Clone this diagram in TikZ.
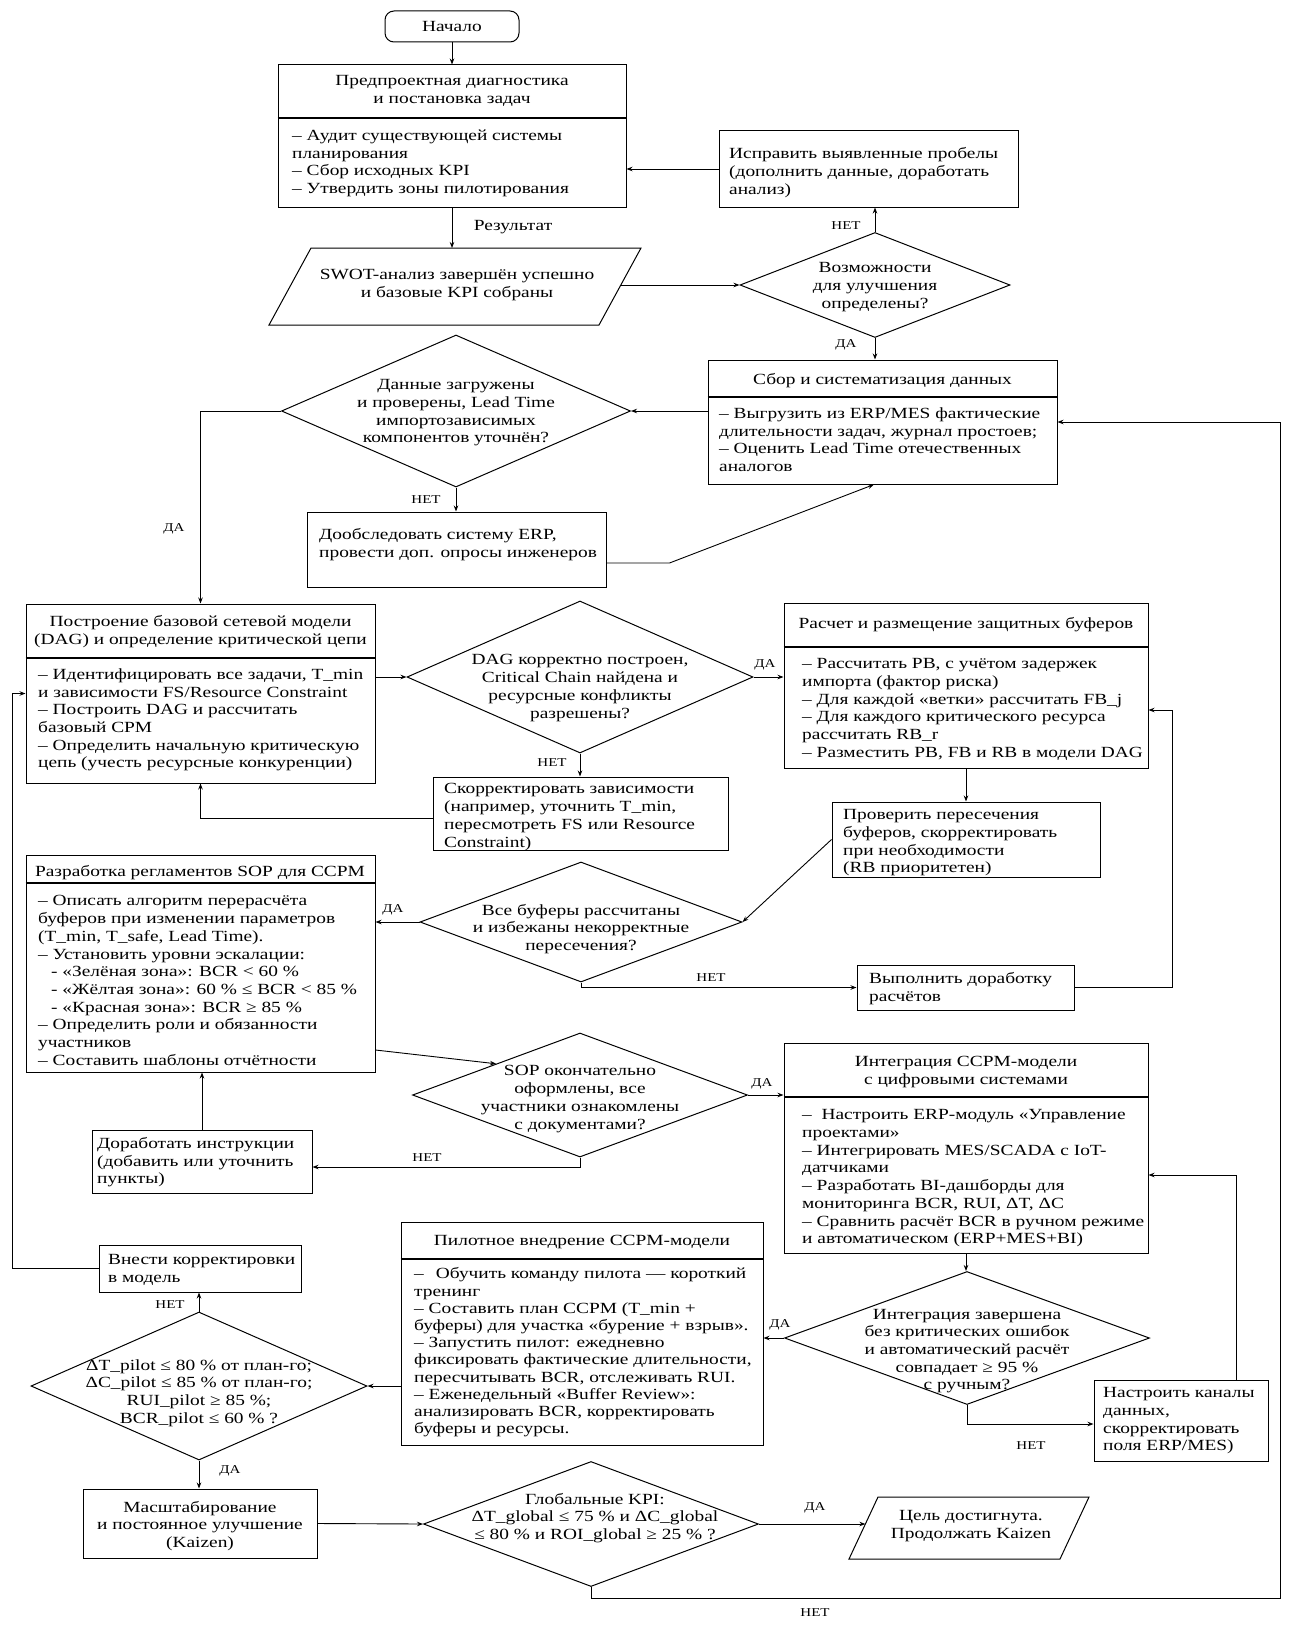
\documentclass[tikz,border=0pt]{standalone}
\usepackage{fontspec}
\setmainfont[FakeStretch=1.25]{Liberation Serif}
\usetikzlibrary{shapes.geometric,arrows.meta,calc}
\newcommand{\mainfs}{\fontsize{15.5}{17.7}\selectfont}
\newcommand{\tightfs}{\fontsize{15.5}{17.2}\selectfont}
\newcommand{\labfs}{\fontsize{12}{14}\selectfont}
\begin{document}
\begin{tikzpicture}[x=1pt,y=-1pt,
  bx/.style={draw, line width=1pt, inner sep=0pt, rectangle},
  dia/.style={draw, line width=1pt, diamond, inner sep=0pt},
  arr/.style={line width=0.9pt, -{Stealth[length=6pt,width=4.5pt]}},
  hdr/.style={line width=1.6pt},
  tl/.style={inner sep=0pt, anchor=north west, align=left, font=\mainfs, execute at begin node=\strut},
  tc/.style={inner sep=0pt, anchor=center, align=center, font=\mainfs, execute at begin node=\strut, execute at end node=\strut},
  lab/.style={inner sep=0pt, font=\labfs},
  labm/.style={inner sep=0pt, font=\mainfs}
]
\fill[white] (0,0) rectangle (1292,1635);
\useasboundingbox (0,0) rectangle (1292,1635);

% ---------- nodes ----------
\node[bx, minimum width=134pt, minimum height=31pt, rounded corners=9pt] (start) at (452,26.5) {};
\node[tc] (starttxt) at (452,28) {Начало};

\node[bx, minimum width=348pt, minimum height=142pt] (b1) at (452,136) {};
\draw[hdr] (b1.west |- 0,118) -- (b1.east |- 0,118);
\node[tc] (b1h) at (452,92) {Предпроектная диагностика\\и постановка задач};
\node[tl] (b1b) at (292,129.5) {– Аудит существующей системы\\планирования\\– Сбор исходных KPI\\– Утвердить зоны пилотирования};

\node[bx, minimum width=299pt, minimum height=76pt] (fix) at (868.5,169) {};
\node[tl] (fixt) at (729,147.5) {Исправить выявленные пробелы\\(дополнить данные, доработать\\анализ)};

\draw[line width=1pt] (311,248) -- (641,248) -- (599,325) -- (269,325) -- cycle;
\coordinate (partop) at (452,248);
\coordinate (parright) at (620.8,285);
\node[tc] (par) at (457,286) {SWOT-анализ завершён успешно\\и базовые KPI собраны};

\node[dia, minimum width=270pt, minimum height=105pt] (d1) at (875,285) {};
\node[tc] (d1t) at (875,288) {Возможности\\для улучшения\\определены?};

\node[bx, minimum width=349pt, minimum height=124pt] (b2) at (882.5,422) {};
\draw[hdr] (b2.west |- 0,397) -- (b2.east |- 0,397);
\node[tc] (b2h) at (882.5,381) {Сбор и систематизация данных};
\node[tl] (b2b) at (719,407.5) {– Выгрузить из ERP/MES фактические\\длительности задач, журнал простоев;\\– Оценить Lead Time отечественных\\аналогов};

\node[dia, minimum width=349pt, minimum height=152pt] (d2) at (456,411) {};
\node[tc] (d2t) at (456,414) {Данные загружены\\и проверены, Lead Time\\импортозависимых\\компонентов уточнён?};

\node[bx, minimum width=299pt, minimum height=75pt] (erp) at (456.5,549.5) {};
\node[tl] (erpt) at (319,528.5) {Дообследовать систему ERP,\\провести доп. опросы инженеров};

\node[bx, minimum width=349pt, minimum height=179pt] (dag) at (200.5,693.5) {};
\draw[hdr] (dag.west |- 0,658) -- (dag.east |- 0,658);
\node[tc] (dagh) at (200.5,632.5) {Построение базовой сетевой модели\\(DAG) и определение критической цепи};
\node[tl] (dagb) at (38,668.5) {– Идентифицировать все задачи, T\_min\\и зависимости FS/Resource Constraint\\– Построить DAG и рассчитать\\базовый CPM\\– Определить начальную критическую\\цепь (учесть ресурсные конкуренции)};

\node[dia, minimum width=346pt, minimum height=152pt] (d3) at (580,677) {};
\node[tc] (d3t) at (580,689) {DAG корректно построен,\\Critical Chain найдена и\\ресурсные конфликты\\разрешены?};

\node[bx, minimum width=364pt, minimum height=165pt] (buf) at (966,685.5) {};
\draw[hdr] (buf.west |- 0,647) -- (buf.east |- 0,647);
\node[tc] (bufh) at (966,625) {Расчет и размещение защитных буферов};
\node[tl] (bufb) at (802,658.5) {– Рассчитать PB, с учётом задержек\\импорта (фактор риска)\\– Для каждой «ветки» рассчитать FB\_j\\– Для каждого критического ресурса\\рассчитать RB\_r\\– Разместить PB, FB и RB в модели DAG};

\node[bx, minimum width=295pt, minimum height=73pt] (cor) at (580.5,813.5) {};
\node[tl] (cort) at (444,783.5) {Скорректировать зависимости\\(например, уточнить T\_min,\\пересмотреть FS или Resource\\Constraint)};

\node[bx, minimum width=268pt, minimum height=75pt] (chk) at (966,839.5) {};
\node[tl] (chkt) at (843,809.5) {Проверить пересечения\\буферов, скорректировать\\при необходимости\\(RB приоритетен)};

\node[bx, minimum width=349pt, minimum height=217pt] (sop) at (200.5,963.5) {};
\draw[hdr] (sop.west |- 0,883) -- (sop.east |- 0,883);
\node[tc] (soph) at (200,873) {Разработка регламентов SOP для CCPM};
\node[tl] (sopb) at (38,895.5) {– Описать алгоритм перерасчёта\\буферов при изменении параметров\\(T\_min, T\_safe, Lead Time).\\– Установить уровни эскалации:\\\hspace*{13pt}- «Зелёная зона»: BCR < 60 \%\\\hspace*{13pt}- «Жёлтая зона»: 60 \% ≤ BCR < 85 \%\\\hspace*{13pt}- «Красная зона»: BCR ≥ 85 \%\\– Определить роли и обязанности\\участников\\– Составить шаблоны отчётности};

\node[dia, minimum width=322pt, minimum height=120pt] (d4) at (581,922) {};
\node[tc] (d4t) at (581,930) {Все буферы рассчитаны\\и избежаны некорректные\\пересечения?};

\node[bx, minimum width=217pt, minimum height=45pt] (vyp) at (965.5,987.5) {};
\node[tl] (vypt) at (869,972.5) {Выполнить доработку\\расчётов};

\node[dia, minimum width=335pt, minimum height=124pt] (d5) at (580,1095) {};
\node[tc] (d5t) at (580,1100) {SOP окончательно\\оформлены, все\\участники ознакомлены\\с документами?};

\node[bx, minimum width=364pt, minimum height=210pt] (int) at (966,1148) {};
\draw[hdr] (int.west |- 0,1097) -- (int.east |- 0,1097);
\node[tc] (inth) at (966,1073) {Интеграция CCPM-модели\\с цифровыми системами};
\node[tl] (intb) at (802,1109.5) {– \ Настроить ERP-модуль «Управление\\проектами»\\– Интегрировать MES/SCADA с IoT-\\датчиками\\– Разработать BI-дашборды для\\мониторинга BCR, RUI, ΔT, ΔC\\– Сравнить расчёт BCR в ручном режиме\\и автоматическом (ERP+MES+BI)};

\node[bx, minimum width=220pt, minimum height=63pt] (dor) at (202,1161.5) {};
\node[tl] (dort) at (97,1137) {Доработать инструкции\\(добавить или уточнить\\пункты)};

\node[bx, minimum width=202pt, minimum height=47pt] (vne) at (200,1268.5) {};
\node[tl] (vnet) at (108,1254) {Внести корректировки\\в модель};

\node[bx, minimum width=362pt, minimum height=223pt] (pil) at (582,1333.5) {};
\draw[hdr] (pil.west |- 0,1259) -- (pil.east |- 0,1259);
\node[tc] (pilh) at (582,1242) {Пилотное внедрение CCPM-модели};
\node[tl, font=\tightfs] (pilb) at (414,1267.5) {–\hspace{12pt}Обучить команду пилота — короткий\\тренинг\\– Составить план CCPM (T\_min +\\буферы) для участка «бурение + взрыв».\\– Запустить пилот: ежедневно\\фиксировать фактические длительности,\\пересчитывать BCR, отслеживать RUI.\\– Еженедельный «Buffer Review»:\\анализировать BCR, корректировать\\буферы и ресурсы.};

\node[dia, minimum width=365pt, minimum height=133pt] (d6) at (967,1338) {};
\node[tc] (d6t) at (967,1352) {Интеграция завершена\\без критических ошибок\\и автоматический расчёт\\совпадает ≥ 95 \%\\с ручным?};

\node[bx, minimum width=174pt, minimum height=81pt] (nas) at (1181,1420.5) {};
\node[tl] (nast) at (1103,1387.5) {Настроить каналы\\данных,\\скорректировать\\поля ERP/MES)};

\node[dia, minimum width=336pt, minimum height=148pt] (d7) at (199,1386) {};
\node[tc] (d7t) at (199,1394) {ΔT\_pilot ≤ 80 \% от план-го;\\ΔC\_pilot ≤ 85 \% от план-го;\\RUI\_pilot ≥ 85 \%;\\BCR\_pilot ≤ 60 \% ?};

\node[bx, minimum width=234pt, minimum height=69pt] (mas) at (200,1523.5) {};
\node[tc] (mast) at (200,1527) {Масштабирование\\и постоянное улучшение\\(Kaizen)};

\node[dia, minimum width=335pt, minimum height=125pt] (d8) at (591,1524) {};
\node[tc] (d8t) at (595,1519) {Глобальные KPI:\\ΔT\_global ≤ 75 \% и ΔC\_global\\≤ 80 \% и ROI\_global ≥ 25 \% ?};

\draw[line width=1pt] (878,1497) -- (1089,1497) -- (1060,1559) -- (849,1559) -- cycle;
\coordinate (celleft) at (865.4,1524);
\node[tc] (cel) at (971,1527) {Цель достигнута.\\Продолжать Kaizen};

% ---------- connectors ----------
\draw[arr] (start.south) -- (b1.north);
\draw[arr] (b1.south) -- (partop);
\node[labm] (lres) at (513,227) {Результат};
\draw[arr] (parright) -- (d1.west);
\draw[arr] (d1.north) -- (d1.north |- fix.south);
\node[lab] (l1) at (846,226) {НЕТ};
\draw[arr] (fix.west) -- (fix.west -| b1.east);
\draw[arr] (d1.south) -- (d1.south |- b2.north);
\node[lab] (l2) at (846,345) {ДА};
\draw[arr] (b2.west |- d2.east) -- (d2.east);
\draw[arr] (d2.south) -- (d2.south |- erp.north);
\node[lab] (l3) at (426,500) {НЕТ};
\draw[arr] ([yshift=-13.5pt]erp.east) -- ++(63,0) -- ([xshift=-8.5pt]b2.south);
\draw[arr] (d2.west) -| (dag.north);
\node[lab] (l4) at (174,529) {ДА};
\draw[arr] (dag.east |- d3.west) -- (d3.west);
\draw[arr] (d3.east) -- (d3.east -| buf.west);
\node[lab] (l5) at (765,665) {ДА};
\draw[arr] (d3.south) -- (d3.south |- cor.north);
\node[lab] (l6) at (552,763) {НЕТ};
\draw[arr] ([yshift=-5pt]cor.west) -| (dag.south);
\draw[arr] (buf.south) -- (chk.north);
\draw[arr] (chk.west) -- (d4.east);
\draw[arr] (d4.west) -- (d4.west -| sop.east);
\node[lab] (l7) at (393,910) {ДА};
\draw[arr] (d4.south) |- (vyp.west);
\node[lab] (l8) at (711,978) {НЕТ};
\draw[arr] (vyp.east) -| ([xshift=24pt,yshift=-24.5pt]buf.east) -- ([yshift=-24.5pt]buf.east);
\draw[arr] ([yshift=-86.5pt]sop.east) -- ($(d5.west)!0.5!(d5.north)$);
\draw[arr] (d5.east) -- (d5.east -| int.west);
\node[lab] (l9) at (762,1084) {ДА};
\draw[arr] (d5.south) |- ([yshift=-5.5pt]dor.east);
\node[lab] (l10) at (427,1158) {НЕТ};
\draw[arr] (dor.north) -- (dor.north |- sop.south);
\draw[arr] (int.south) -- (int.south |- d6.north);
\draw[arr] (d6.west) -- (d6.west -| pil.east);
\node[lab] (l11) at (780,1325) {ДА};
\draw[arr] (d6.south) |- ([yshift=-3.5pt]nas.west);
\node[lab] (l12) at (1031,1446) {НЕТ};
\draw[arr] ([xshift=55pt]nas.north) |- ([yshift=-27pt]int.east);
\draw[arr] (pil.west |- d7.east) -- (d7.east);
\draw[arr] (d7.north) -- (d7.north |- vne.south);
\node[lab] (l13) at (170,1305) {НЕТ};
\draw[arr] (vne.west) -| ([xshift=-13pt]dag.west) -- (dag.west);
\draw[arr] (d7.south) -- (d7.south |- mas.north);
\node[lab] (l14) at (230,1471) {ДА};
\draw[arr] (mas.east) -- (d8.west);
\draw[arr] (d8.east) -- (celleft);
\node[lab] (l15) at (815,1508) {ДА};
\draw[arr] (d8.south) -- ++(0,11) -| ([xshift=223pt]b2.east) -- (b2.east);
\node[lab] (l16) at (815,1613) {НЕТ};
\end{tikzpicture}
\end{document}
